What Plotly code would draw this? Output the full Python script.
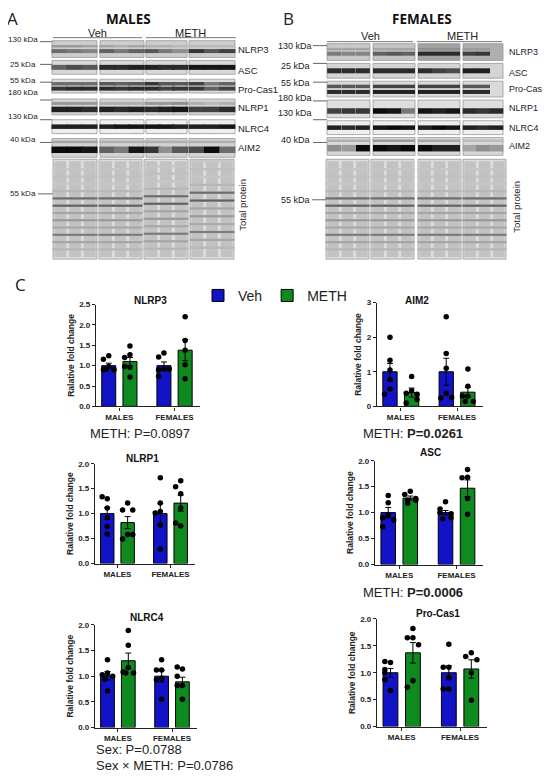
import plotly.graph_objects as go

# the page body keeps a default 8 px margin, so the figure is made 8 px smaller
# and the canvas axis is expressed in page pixels
PAGE_W, PAGE_H = 550, 783
OFF = 8
W, H = PAGE_W - OFF, PAGE_H - OFF

# ---- bar chart values (order: Veh males, METH males, Veh females, METH females)
NLRP3_MEAN = [1.00, 1.10, 1.00, 1.38]
NLRP3_SEM = [0.06, 0.10, 0.09, 0.26]
NLRP3_PTS = [[1.24, 1.16, 0.98, 0.90, 0.90, 0.92],
             [1.48, 1.27, 1.20, 0.96, 0.98, 0.72],
             [1.31, 1.21, 0.92, 0.90, 0.92, 0.74],
             [2.20, 1.62, 1.38, 1.02, 0.68]]

AIM2_MEAN = [1.00, 0.40, 1.00, 0.41]
AIM2_SEM = [0.24, 0.13, 0.39, 0.14]
AIM2_PTS = [[2.00, 1.33, 1.05, 0.78, 0.50, 0.35],
            [0.86, 0.45, 0.38, 0.35, 0.20, 0.10],
            [2.59, 1.53, 1.10, 0.38, 0.24, 0.26],
            [1.08, 0.58, 0.29, 0.30, 0.14, 0.14]]

NLRP1_MEAN = [1.00, 0.82, 1.00, 1.21]
NLRP1_SEM = [0.12, 0.12, 0.20, 0.16]
NLRP1_PTS = [[1.30, 1.34, 1.11, 0.92, 0.74, 0.59],
             [1.21, 1.07, 1.07, 0.58, 0.49, 0.58],
             [1.72, 1.21, 1.04, 1.01, 0.77, 0.29],
             [1.66, 1.54, 1.40, 1.11, 0.75, 0.81]]

ASC_MEAN = [1.00, 1.28, 1.00, 1.47]
ASC_SEM = [0.10, 0.04, 0.04, 0.16]
ASC_PTS = [[1.33, 1.19, 0.95, 0.90, 0.86, 0.73],
           [1.41, 1.35, 1.27, 1.24, 1.24, 1.18],
           [1.21, 1.07, 1.00, 0.98, 0.90, 0.88],
           [1.83, 1.68, 1.67, 1.27, 0.97]]

NLRC4_MEAN = [1.01, 1.30, 1.00, 0.89]
NLRC4_SEM = [0.08, 0.15, 0.11, 0.09]
NLRC4_PTS = [[1.32, 1.06, 1.03, 1.00, 0.94, 0.71],
             [1.89, 1.60, 1.17, 1.08, 1.06, 1.06],
             [1.32, 1.12, 1.12, 0.96, 0.93, 0.55],
             [1.14, 1.18, 1.00, 0.82, 0.82, 0.55]]

PROCAS1_MEAN = [1.00, 1.37, 1.00, 1.07]
PROCAS1_SEM = [0.08, 0.19, 0.13, 0.17]
PROCAS1_PTS = [[1.19, 1.21, 1.06, 1.00, 0.87, 0.67],
               [1.82, 1.65, 1.65, 1.52, 0.85, 0.73],
               [1.53, 1.10, 1.10, 0.91, 0.70, 0.70],
               [1.37, 1.30, 1.24, 1.00, 0.49]]

GROUPS = ["MALES", "FEMALES"]
TREATMENTS = ["Veh", "METH"]
COLORS = ["#1212c6", "#0e8a1e"]
TICKS_25 = [0.0, 0.5, 1.0, 1.5, 2.0, 2.5]
TICKS_20 = [0.0, 0.5, 1.0, 1.5, 2.0]
TICKS_3 = [0, 1, 2, 3]

# ---- blot band intensities, 12 lanes (4 gels x 3 lanes), 0 = no lane
M_NLRP3_UP = [0.35, 0.35, 0.3, 0.3, 0.25, 0.3, 0.25, 0.25, 0.2, 0.2, 0.2, 0.2]
M_NLRP3 = [0.55, 0.5, 0.45, 0.6, 0.5, 0.6, 0.65, 0.5, 0.4, 0.8, 0.65, 0.75]
M_ASC = [0.6, 0.7, 0.65, 0.85, 0.85, 0.9, 0.9, 0.85, 0.85, 0.95, 0.95, 0.95]
M_CAS1_UP = [0.55, 0.55, 0.55, 0.65, 0.6, 0.65, 0.8, 0.65, 0.65, 0.75, 0.5, 0.6]
M_CAS1 = [0.8, 0.85, 0.85, 0.85, 0.8, 0.85, 0.85, 0.75, 0.8, 0.8, 0.6, 0.75]
M_NLRP1_UP = [0.35, 0.35, 0.35, 0.25, 0.25, 0.25, 0.35, 0.35, 0.4, 0.25, 0.2, 0.25]
M_NLRP1 = [0.9, 0.9, 0.85, 0.9, 0.85, 0.9, 0.85, 0.9, 0.95, 0.75, 0.75, 0.85]
M_NLRC4 = [0.9, 0.9, 0.9, 0.9, 0.95, 0.95, 0.95, 0.95, 0.9, 0.9, 0.9, 0.95]
M_AIM2_UP = [0.3, 0.3, 0.3, 0.25, 0.25, 0.25, 0.25, 0.25, 0.25, 0.25, 0.25, 0.25]
M_AIM2 = [1.0, 1.0, 0.95, 0.6, 0.5, 0.95, 0.8, 0.4, 0.65, 0.7, 1.0, 0.55]

F_NLRP3_UP = [0.3, 0.3, 0.3, 0.3, 0.3, 0.3, 0.4, 0.4, 0.4, 0.35, 0.35, 0]
F_NLRP3 = [0.5, 0.45, 0.45, 0.6, 0.65, 0.6, 0.85, 0.85, 0.85, 0.75, 0.8, 0]
F_ASC = [0.85, 0.85, 0.85, 0.85, 0.85, 0.85, 0.85, 0.75, 0.7, 0.9, 0.9, 0]
F_CAS1_UP = [0.65, 0.65, 0.65, 0.75, 0.75, 0.75, 0.75, 0.75, 0.75, 0.65, 0.65, 0]
F_CAS1 = [0.85, 0.85, 0.85, 0.9, 0.9, 0.9, 0.9, 0.9, 0.9, 0.85, 0.85, 0]
F_NLRP1 = [0.75, 0.8, 0.8, 1.0, 0.95, 0.5, 0.95, 0.9, 0.95, 0.85, 0.8, 0.85]
F_NLRC4 = [0.9, 0.85, 0.9, 0.95, 1.0, 0.95, 0.9, 1.0, 0.95, 0.9, 0.85, 0.9]
F_AIM2_UP = [0.25, 0.25, 0.25, 0.35, 0.35, 0.35, 0.3, 0.3, 0.3, 0.2, 0.2, 0.2]
F_AIM2 = [0.4, 0.35, 1.0, 1.0, 0.95, 1.0, 1.0, 0.9, 0.9, 0.3, 0.4, 0.35]

# total protein stain, band intensities from top to bottom of the lane
TP_INT = [0.15, 0.18, 0.15, 0.22, 0.55, 0.6, 0.3, 0.35, 0.28, 0.48, 0.3, 0.22]

PROTEINS = ["NLRP3", "ASC", "Pro-Cas1", "NLRP1", "NLRC4", "AIM2"]
M_KDA = ["130 kDa", "25 kDa", "55 kDa", "180 kDa", "130 kDa", "40 kDa"]
F_KDA = ["130 kDa", "25 kDa", "55 kDa", "180 kDa", "130 kDa", "40 kDa"]


def gray(v):
    g = int(232 - 222 * v)
    return f"rgb({g},{g},{g})"


def swarm(vals, spread):
    offs = []
    for i, v in enumerate(vals):
        k = sum(1 for u in vals[:i] if abs(u - v) < spread)
        offs.append([0, -0.25, 0.25, -0.12, 0.12][min(k, 4)])
    return offs


fig = go.Figure()
shapes = []
notes = []


def txt(x, y, s, size=10, family="Liberation Sans", color="#222", **kw):
    notes.append(dict(x=x, y=y, xref="x7", yref="y7", text=s, showarrow=False,
                      font=dict(size=size, family=family, color=color), **kw))


def line(x0, y0, x1, y1, color="#555", width=1):
    shapes.append(dict(type="line", x0=x0, y0=y0, x1=x1, y1=y1, xref="x7", yref="y7",
                       line=dict(color=color, width=width), layer="below"))


def rect(x0, y0, x1, y1, fill, border="#999999", width=0.8):
    shapes.append(dict(type="rect", x0=x0, y0=y0, x1=x1, y1=y1, xref="x7", yref="y7",
                       fillcolor=fill, line=dict(color=border, width=width), layer="below"))


# ---- western blot panels (canvas axis in page pixels)
def blot(gels, rows, bands, bgs, tp_gels, tp_y, tp_shift):
    for r, (y0, y1) in enumerate(rows):
        for g, (x0, x1) in enumerate(gels):
            rect(x0, y0, x1, y1, bgs[r][g])
        for rel, thick, vals in bands[r]:
            xs, ys, cs = [], [], []
            for lane, v in enumerate(vals):
                if v <= 0:
                    continue
                gx0, gx1 = gels[lane // 3]
                w = (gx1 - gx0) / 3
                xs.append(gx0 + w * (lane % 3 + 0.5))
                ys.append(y0 + rel * (y1 - y0))
                cs.append(gray(v))
            fig.add_trace(go.Scatter(
                x=xs, y=ys, mode="markers", xaxis="x7", yaxis="y7",
                marker=dict(symbol="line-ew", size=w * 0.75,
                            line=dict(width=thick, color=cs)),
                hoverinfo="skip", showlegend=False))
    # total protein stain
    xs, ys, cs = [], [], []
    t0, t1 = tp_y
    for g, (x0, x1) in enumerate(tp_gels):
        rect(x0, t0, x1, t1, "#dcdcdc")
        w = (x1 - x0) / 3
        for lane in range(3):
            cx = x0 + w * (lane + 0.5)
            rect(cx - w * 0.4, t0 + 2, cx + w * 0.4, t1 - 2, "#c2c2c2", border="#c2c2c2", width=0)
            for k, v in enumerate(TP_INT):
                rel = 0.1 + k * 0.073 - tp_shift[g] * (1 - k / 14)
                xs.append(cx)
                ys.append(t0 + rel * (t1 - t0))
                cs.append(gray(v))
    fig.add_trace(go.Scatter(
        x=xs, y=ys, mode="markers", xaxis="x7", yaxis="y7",
        marker=dict(symbol="line-ew", size=11, line=dict(width=2.2, color=cs)),
        hoverinfo="skip", showlegend=False))


M_GELS = [(52, 97), (100, 144), (146, 187), (189, 235)]
M_ROWS = [(37, 54), (57, 71), (76, 90), (96, 112), (117, 131), (136, 155)]
F_GELS = [(327, 370), (373, 415), (418, 460), (463, 503)]
F_ROWS = [(40, 57), (60, 75), (78, 94), (97, 115), (118, 132), (135, 153)]

M_BANDS = [[(0.33, 2.5, M_NLRP3_UP), (0.62, 4, M_NLRP3)],
           [(0.5, 5, M_ASC)],
           [(0.33, 3.5, M_CAS1_UP), (0.68, 4, M_CAS1)],
           [(0.28, 3, M_NLRP1_UP), (0.66, 5.5, M_NLRP1)],
           [(0.5, 4.5, M_NLRC4)],
           [(0.18, 2.5, M_AIM2_UP), (0.6, 6.5, M_AIM2)]]
F_BANDS = [[(0.33, 2.5, F_NLRP3_UP), (0.6, 4, F_NLRP3)],
           [(0.5, 5, F_ASC)],
           [(0.33, 3.5, F_CAS1_UP), (0.68, 4, F_CAS1)],
           [(0.62, 5.5, F_NLRP1)],
           [(0.5, 4.5, F_NLRC4)],
           [(0.18, 2.5, F_AIM2_UP), (0.6, 6.5, F_AIM2)]]
M_BG = [["#cdcdcd"] * 4, ["#d8d8d8"] * 4, ["#dadada"] * 4,
        ["#d4d4d4"] * 4, ["#eeeeee"] * 4, ["#d2d2d2"] * 4]
F_BG = [["#c9c9c9", "#c4c4c4", "#a2a2a2", "#afafaf"], ["#d4d4d4"] * 4, ["#dadada"] * 4,
        ["#dedede"] * 4, ["#eeeeee"] * 4, ["#d8d8d8"] * 4]

blot(M_GELS, M_ROWS, M_BANDS, M_BG, [(53, 97), (99, 142), (144, 188), (190, 234)],
     (157, 258), [0, 0, 0.03, 0.08])
blot(F_GELS, F_ROWS, F_BANDS, F_BG, [(326, 369), (371, 414), (418, 461), (463, 506)],
     (157, 258), [0, 0, 0, 0])

# blot labels, panel A
txt(12, 15, "A", 17, "Open Sans")
txt(128, 15, "<b>MALES</b>", 13.5, "Open Sans", "#111")
txt(97, 29, "Veh", 11)
txt(190, 29, "METH", 11)
line(53, 34, 142, 34, "#777")
line(146, 34, 236, 34, "#777")
for lab, ty, ly in zip(M_KDA, [36, 61, 77, 89, 114, 137], [38, 61, 79, 97, 117, 140]):
    txt(23, ty, lab, 8)
    line(40, ly, 52, ly, "#666")
for lab, ty in zip(PROTEINS, [46, 67, 86, 105, 126, 145]):
    txt(236, ty, lab, 9.5, xanchor="left")
txt(23, 192, "55 kDa", 8)
line(38, 192, 53, 192, "#666")
txt(243, 203, "Total protein", 9.5, textangle=-90)

# blot labels, panel B
txt(288, 15, "B", 17, "Open Sans")
txt(422, 15, "<b>FEMALES</b>", 13.5, "Open Sans", "#111")
txt(370, 32, "Veh", 11)
txt(462, 32, "METH", 11)
line(327, 38, 413, 38, "#777")
line(417, 38, 502, 38, "#777")
for lab, ty, ly in zip(F_KDA, [42, 63, 80, 95, 110, 137], [42, 60, 79, 98, 117, 140]):
    txt(295, ty, lab, 9)
    line(313, ly, 327, ly, "#666")
for lab, ty in zip(PROTEINS, [48, 70, 86, 105, 125, 144]):
    txt(507, ty, lab, 9, xanchor="left")
txt(295, 198, "55 kDa", 9)
line(312, 198, 326, 198, "#666")
txt(517, 205, "Total protein", 9.5, textangle=-90)

# ---- bar charts, boxes in page pixels (left, right, top, bottom)
XPOS = [0, 1, 2.6, 3.6]
CHARTS = [
    ("NLRP3", NLRP3_MEAN, NLRP3_SEM, NLRP3_PTS, (96, 200, 304, 407), TICKS_25, "{:.1f}", (150, 300)),
    ("AIM2", AIM2_MEAN, AIM2_SEM, AIM2_PTS, (377, 483, 302, 407), TICKS_3, "{:d}", (417, 300)),
    ("NLRP1", NLRP1_MEAN, NLRP1_SEM, NLRP1_PTS, (95, 195, 465, 566), TICKS_20, "{:.1f}", (142, 460)),
    ("ASC", ASC_MEAN, ASC_SEM, ASC_PTS, (375, 483, 462, 567), TICKS_20, "{:.1f}", (430, 454)),
    ("NLRC4", NLRC4_MEAN, NLRC4_SEM, NLRC4_PTS, (95, 197, 628, 732), TICKS_20, "{:.1f}", (147, 621)),
    ("Pro-Cas1", PROCAS1_MEAN, PROCAS1_SEM, PROCAS1_PTS, (377, 487, 622, 731), TICKS_20, "{:.1f}", (438, 617)),
]

tick_font = dict(size=8, family="Liberation Sans", color="#222", weight="bold")
title_font = dict(size=8.5, family="Liberation Sans", color="#222", weight="bold")
layout_axes = {}
for i, (name, mean, sem, pts, (l, r, t, b), yticks, fmt, tpos) in enumerate(CHARTS, start=1):
    xa, ya = f"x{i}", f"y{i}"
    ymax = yticks[-1]
    for k, tr in enumerate(TREATMENTS):
        idx = [k, k + 2]
        fig.add_trace(go.Bar(
            x=[XPOS[j] for j in idx], y=[mean[j] for j in idx], width=0.66,
            name=tr, legendgroup=tr, showlegend=(i == 1), xaxis=xa, yaxis=ya,
            marker=dict(color=COLORS[k], line=dict(color="black", width=1)),
            error_y=dict(type="data", array=[sem[j] for j in idx], color="black",
                         thickness=1, width=3)))
    px, py = [], []
    for j in range(4):
        offs = swarm(pts[j], 0.07 * ymax)
        px += [XPOS[j] + o for o in offs]
        py += pts[j]
    fig.add_trace(go.Scatter(
        x=px, y=py, mode="markers", xaxis=xa, yaxis=ya, showlegend=False,
        marker=dict(color="black", size=5.5)))
    layout_axes[f"xaxis{i}"] = dict(
        domain=[(l - OFF) / W, (r - OFF) / W], range=[-0.6, 4.3], anchor=ya,
        showgrid=False, zeroline=False, showline=True, linecolor="#222", linewidth=1.3,
        ticks="outside", ticklen=3, tickcolor="#222", tickvals=[0.5, 3.1],
        ticktext=GROUPS, tickfont=tick_font, fixedrange=True)
    layout_axes[f"yaxis{i}"] = dict(
        domain=[1 - (b - OFF) / H, 1 - (t - OFF) / H], range=[0, ymax],
        tickvals=yticks, ticktext=[fmt.format(v) for v in yticks],
        anchor=xa, showgrid=False, zeroline=False, showline=True,
        linecolor="#222", linewidth=1.3, ticks="outside", ticklen=3, tickcolor="#222",
        tickfont=tick_font,
        title=dict(text="Ralative fold change", font=title_font, standoff=3),
        fixedrange=True)
    txt(tpos[0], tpos[1], f"<b>{name}</b>", 10, color="#111")

txt(20, 284, "C", 17, "Open Sans")
txt(140, 434, "METH: P=0.0897", 13)
txt(413, 434, "METH: <b>P=0.0261</b>", 13)
txt(413, 595, "METH: <b>P=0.0006</b>", 13)
txt(94, 754, "Sex: P=0.0788", 13, xanchor="left")
txt(94, 770, "Sex \u00d7 METH: P=0.0786", 13, xanchor="left")

fig.update_layout(
    width=W, height=H, autosize=False, margin=dict(l=0, r=0, t=0, b=0),
    paper_bgcolor="white", plot_bgcolor="rgba(0,0,0,0)",
    xaxis7=dict(domain=[0, 1], range=[OFF, PAGE_W], visible=False, fixedrange=True, anchor="y7"),
    yaxis7=dict(domain=[0, 1], range=[PAGE_H, OFF], visible=False, fixedrange=True, anchor="x7"),
    shapes=shapes, annotations=notes,
    legend=dict(orientation="h", x=(198 - OFF) / W, y=1 - (279 - OFF) / H,
                xanchor="left", yanchor="top",
                font=dict(size=14, family="Liberation Sans", color="#222"),
                bgcolor="rgba(0,0,0,0)", itemwidth=30, traceorder="normal"),
    **layout_axes,
)

fig.write_html("out.html")
